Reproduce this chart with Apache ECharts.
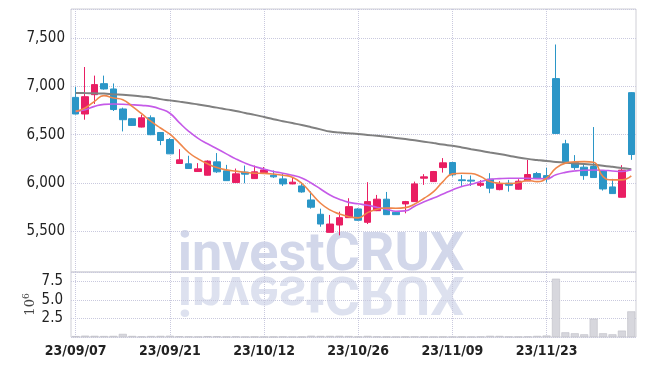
<!DOCTYPE html>
<html>
<head>
<meta charset="utf-8">
<script src="https://cdn.jsdelivr.net/npm/echarts@6/dist/echarts.min.js"></script>
<style>html,body{margin:0;padding:0;background:#fff}#c{width:645px;height:366px}</style>
</head>
<body>
<div id="c"></div>
<script>
const dates = ['23/09/07','23/09/08','23/09/11','23/09/12','23/09/13','23/09/14','23/09/15','23/09/18','23/09/19','23/09/20',
'23/09/21','23/09/22','23/09/25','23/09/26','23/09/27','23/10/04','23/10/05','23/10/06','23/10/10','23/10/11',
'23/10/12','23/10/13','23/10/16','23/10/17','23/10/18','23/10/19','23/10/20','23/10/23','23/10/24','23/10/25',
'23/10/26','23/10/27','23/10/30','23/10/31','23/11/01','23/11/02','23/11/03','23/11/06','23/11/07','23/11/08',
'23/11/09','23/11/10','23/11/13','23/11/14','23/11/15','23/11/16','23/11/17','23/11/20','23/11/21','23/11/22',
'23/11/23','23/11/24','23/11/27','23/11/28','23/11/29','23/11/30','23/12/01','23/12/04','23/12/05','23/12/06'];

const opens  = [6886,6714,6914,7028,6973,6766,6665,6579,6675,6523, 6450,6202,6199,6119,6081,6219,6126,6005,6113,6046,
                6108,6080,6043,5991,5970,5825,5677,5490,5566,5642, 5732,5594,5714,5833,5698,5784,5808,6050,6015,6160,
                6212,6033,6030,5977,6040,5932,5998,5936,6022,6098, 6077,7080,6406,6212,6164,6171,6126,5960,5853,6935];
const closes = [6714,6893,7018,6973,6760,6655,6596,6675,6500,6440, 6302,6240,6150,6147,6227,6116,6025,6095,6092,6116,
                6136,6064,5991,6009,5908,5750,5576,5576,5642,5756, 5615,5808,5833,5673,5673,5808,5991,6064,6119,6209,
                6085,6025,6020,5998,5947,5994,5977,6019,6088,6050, 6043,6513,6219,6160,6077,6057,5939,5891,6133,6295];
const lows   = [6710,6655,6818,6966,6745,6534,6590,6575,6495,6392, 6300,6200,6148,6115,6078,6105,6022,6002,5998,6043,
                6105,6053,5970,5988,5900,5735,5548,5488,5459,5640, 5610,5576,5710,5670,5670,5687,5805,5981,6012,6108,
                6067,5970,5970,5960,5895,5925,5911,5932,6020,6047, 6005,6510,6215,6136,6033,6055,5922,5889,5850,6240];
const highs  = [6994,7200,7111,7111,7030,6780,6670,6707,6700,6525, 6465,6350,6282,6206,6235,6310,6188,6150,6181,6181,
                6165,6130,6095,6061,6005,5915,5735,5670,5704,5843, 5740,6009,5877,5908,5710,5815,6015,6092,6125,6258,
                6215,6084,6078,6030,6102,6020,6033,6040,6240,6115, 6157,7433,6447,6289,6195,6579,6130,6043,6185,6940];

const ma5  = [6741,6776,6845,6904,6880,6862,6793,6717,6637,6569, 6505,6413,6316,6250,6199,6160,6136,6123,6112,6102,
              6100,6093,6081,6061,5998,5895,5791,5722,5680,5652, 5640,5694,5729,5742,5740,5746,5784,5843,5911,6015,
              6095,6102,6098,6067,6015,5998,5995,6005,6026,6015, 6050,6154,6206,6219,6222,6215,6067,6033,6033,6074];
const ma20 = [6741,6759,6793,6814,6817,6815,6810,6803,6793,6766, 6722,6625,6535,6462,6406,6354,6302,6250,6206,6171,
              6145,6120,6102,6081,6053,6000,5938,5877,5833,5800, 5785,5770,5749,5729,5708,5712,5760,5806,5845,5887,
              5929,5964,5988,6015,6038,6046,6050,6050,6048,6046, 6045,6085,6110,6125,6133,6135,6133,6125,6120,6138];
const ma120 = [6932,6930,6928,6925,6918,6912,6905,6895,6885,6868, 6855,6842,6828,6812,6796,6780,6762,6745,6725,6705,
               6683,6660,6640,6620,6600,6578,6555,6532,6522,6515, 6508,6498,6488,6478,6467,6455,6442,6428,6413,6398,
               6385,6368,6350,6333,6316,6300,6283,6265,6250,6238, 6227,6218,6210,6203,6197,6190,6180,6168,6155,6142];

const volumes = [120000,180000,160000,130000,150000,420000,140000,60000,130000,150000,
                 170000,100000,60000,40000,110000,90000,30000,60000,20000,30000,
                 20000,30000,40000,20000,30000,170000,140000,150000,160000,130000,
                 40000,150000,60000,30000,20000,30000,40000,30000,20000,30000,
                 20000,30000,20000,40000,160000,140000,50000,30000,60000,150000,
                 200000,7850000,630000,500000,360000,2470000,500000,360000,860000,3450000];

const labelIdx = [0,10,20,30,40,50];

const UP = '#e91e63', DOWN = '#2b96c7';
const GRIDC = '#c9c9de';
const FONT = '"DejaVu Sans Condensed", "Roboto Condensed", Roboto, sans-serif';

const candleData = dates.map((d,i)=>[opens[i],closes[i],lows[i],highs[i]]);

const chart = echarts.init(document.getElementById('c'), null, {renderer:'canvas'});
const xCommon = {
  type:'category', data: dates, boundaryGap: true,
  axisLine:{show:false}, axisTick:{show:false},
  splitLine:{show:true, alignWithLabel:true, interval:(i)=>labelIdx.indexOf(i)>=0, lineStyle:{color:GRIDC, type:'dotted', width:1}}
};
chart.setOption({
  animation:false,
  backgroundColor:'#fff',
  graphic:[
    {type:'text', x:321, y:283, z:-10, silent:true,
     style:{text:'investCRUX', font:'bold 54px Roboto', fill:'#d2d7ea', align:'center', verticalAlign:'bottom'}},
    {type:'text', x:321, y:263, z:-10, silent:true, scaleY:-1,
     style:{text:'investCRUX', font:'bold 54px Roboto', fill:'#d2d7ea', opacity:0.75, align:'center', verticalAlign:'bottom'}}
  ],
  grid:[
    {left:71, right:9, top:9, height:263, show:true, borderColor:'#cfcfd6', borderWidth:1, backgroundColor:'transparent'},
    {left:71, right:9, top:272, height:65, show:true, borderColor:'#cfcfd6', borderWidth:1, backgroundColor:'transparent'}
  ],
  xAxis:[
    Object.assign({}, xCommon, {gridIndex:0, axisLabel:{show:false}}),
    Object.assign({}, xCommon, {gridIndex:1, axisLabel:{show:true, interval:(i)=>labelIdx.indexOf(i)>=0, color:'#222', fontFamily:FONT, fontWeight:'bold', fontSize:14, margin:7}})
  ],
  yAxis:[
    {type:'value', gridIndex:0, min:5080, max:7800, minInterval:500, maxInterval:500, scale:true,
     axisLine:{show:false}, axisTick:{show:false},
     axisLabel:{showMinLabel:false, showMaxLabel:false, color:'#222', fontFamily:FONT, fontSize:15, margin:6,
       formatter:(v)=>v.toLocaleString('en-US')},
     splitLine:{show:true, lineStyle:{color:GRIDC, type:'dotted'}}},
    {type:'value', gridIndex:1, min:0, max:8750000, interval:2500000,
     axisLine:{show:false}, axisTick:{show:false},
     axisLabel:{showMinLabel:false, showMaxLabel:false, color:'#222', fontFamily:FONT, fontSize:15, margin:8,
       formatter:(v)=>(v/1e6).toFixed(1)},
     splitLine:{show:true, lineStyle:{color:GRIDC, type:'dotted'}},
     name:'10{sup|6}', nameLocation:'middle', nameGap:32, nameRotate:90, nameMoveOverlap:false,
     nameTextStyle:{fontFamily:'"DejaVu Serif", serif', fontSize:13, color:'#444',
       rich:{sup:{fontSize:9, verticalAlign:'top', padding:[0,0,8,0], fontFamily:'"DejaVu Serif", serif', color:'#444'}}}}
  ],
  series:[
    {type:'candlestick', xAxisIndex:0, yAxisIndex:0, data:candleData, barWidth:7,
     itemStyle:{color:UP, color0:DOWN, borderColor:UP, borderColor0:DOWN, borderWidth:1}},
    {type:'line', xAxisIndex:0, yAxisIndex:0, data:ma120, smooth:true, symbol:'none', lineStyle:{color:'#808080', width:2}},
    {type:'line', xAxisIndex:0, yAxisIndex:0, data:ma20, smooth:true, symbol:'none', lineStyle:{color:'#c55ae8', width:1.6}},
    {type:'line', xAxisIndex:0, yAxisIndex:0, data:ma5, smooth:true, symbol:'none', lineStyle:{color:'#ef864a', width:1.6}},
    {type:'bar', xAxisIndex:1, yAxisIndex:1, data:volumes, barWidth:8,
     itemStyle:{color:'#d7d7dd', borderColor:'#bdbdc6', borderWidth:0.6}}
  ]
});
</script>
</body>
</html>
